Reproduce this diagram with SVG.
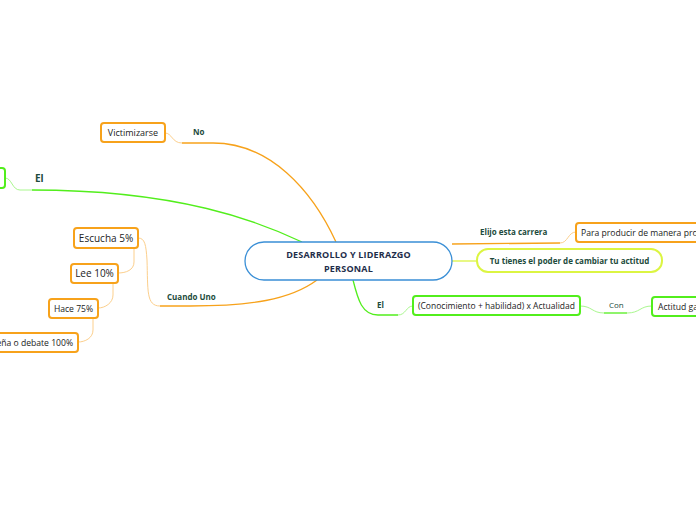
<svg xmlns="http://www.w3.org/2000/svg" width="696" height="520" viewBox="0 0 696 520">
<style>
text{font-family:"Open Sans","Noto Sans","Liberation Sans",sans-serif;}
.n{fill:#fff;stroke-width:2;}
.o{stroke:#f7a21b;}
.g{stroke:#52ee1c;}
.y{stroke:#dcf542;}
.t{font-size:8.6px;fill:#222;}
.t10{font-size:10px;fill:#222;}
.lb{font-size:8px;font-weight:bold;fill:#1d4b3c;}
.c{fill:none;}
.co{stroke:#f7a21b;stroke-width:1.3;}
.cot{stroke:#fccf8c;stroke-width:1;}
.cg{stroke:#52ee1c;stroke-width:1.3;}
.cgt{stroke:#a9f78e;stroke-width:1;}
.cy{stroke:#dcf542;stroke-width:1.3;}
</style>
<rect width="696" height="520" fill="#fff"/>
<g id="connectors" class="c">
<path class="co c" d="M336,242 C312,190 270,143 213,143 L182,143"/>
<path class="cot c" d="M182,143 C172,143 172,133 165,133"/>
<path class="cg c" d="M302,242 C260,222 180,190 32,190"/>
<path class="cgt c" d="M32,190 L20,190 C12,190 12,178 5,178"/>
<path class="co c" d="M317,280 C290,300 250,306 190,306 L160,306"/>
<path class="cot c" d="M160,306 C146,306 148,290 147,260 C146,245 145,238 138,238"/>
<path class="cot c" d="M134,248 L134,262 C134,270 126,273 118,273"/>
<path class="cot c" d="M113,283 L113,295 C113,303 105,308 98,308"/>
<path class="cot c" d="M93,318 L93,330 C93,338 85,342 78,342"/>
<path class="co c" d="M452,244 L560,243"/>
<path class="cot c" d="M560,243 C568,243 568,232 576,232"/>
<path class="cy c" d="M452,261 L477,261"/>
<path class="cg c" d="M353,280 C358,300 362,315 378,315 L398,315"/>
<path class="cgt c" d="M398,315 C406,315 406,306 413,306"/>
<path class="cgt c" d="M580,306 C592,306 592,313 604,313"/>
<path class="cg c" d="M604,313 L627,313"/>
<path class="cgt c" d="M627,313 C640,313 640,306 652,306"/>
<text class="lb" x="193" y="135">No</text>
<text class="lb" x="35" y="182" style="font-size:10px">El</text>
<text class="lb" x="167" y="300">Cuando Uno</text>
<text class="lb" x="480" y="235">Elijo esta carrera</text>
<text class="lb" x="377" y="308">El</text>
<text x="609" y="308" style="font-size:8px;fill:#1d4b3c">Con</text>
</g>
<g id="central">
<rect x="245" y="242" width="207" height="38" rx="19" fill="#fff" stroke="#3a8fd6" stroke-width="1.3"/>
<text x="348.5" y="258" text-anchor="middle" style="font-size:9px;font-weight:bold;fill:#1e2d4a;letter-spacing:0.2px">DESARROLLO Y LIDERAZGO</text>
<text x="348.5" y="272" text-anchor="middle" style="font-size:9px;font-weight:bold;fill:#1e2d4a;letter-spacing:0.2px">PERSONAL</text>
</g>
<g id="victimizarse">
<rect class="n o" x="101" y="123" width="64" height="19" rx="3"/>
<text class="t" x="133" y="136" text-anchor="middle" style="font-size:9px">Victimizarse</text>
</g>
<g id="el-left">
<rect class="n g" x="-60" y="168" width="65" height="20" rx="3"/>
</g>
<g id="escucha">
<rect class="n o" x="74" y="228" width="64" height="20" rx="3"/>
<text class="t10" x="106" y="242" text-anchor="middle">Escucha 5%</text>
</g>
<g id="lee">
<rect class="n o" x="71" y="264" width="47" height="19" rx="3"/>
<text class="t10" x="94.5" y="277" text-anchor="middle">Lee 10%</text>
</g>
<g id="hace">
<rect class="n o" x="49" y="299" width="49" height="19" rx="3"/>
<text class="t" x="73.5" y="312" text-anchor="middle">Hace 75%</text>
</g>
<g id="ensena">
<rect class="n o" x="-30" y="333" width="108" height="19" rx="3"/>
<text class="t" x="73" y="346" text-anchor="end">Enseña o debate 100%</text>
</g>
<g id="para-producir">
<rect class="n o" x="576" y="223" width="140" height="19" rx="3"/>
<text class="t" x="581" y="236">Para producir de manera pro</text>
</g>
<g id="tu-tienes">
<rect class="n y" x="477" y="249" width="185" height="23" rx="11"/>
<text x="569.5" y="264" text-anchor="middle" style="font-size:8px;font-weight:bold;fill:#1d4b3c">Tu tienes el poder de cambiar tu actitud</text>
</g>
<g id="conocimiento">
<rect class="n g" x="413" y="296" width="167" height="19" rx="3"/>
<text class="t" x="418" y="309" textLength="157" lengthAdjust="spacingAndGlyphs">(Conocimiento + habilidad) x Actualidad</text>
</g>
<g id="actitud">
<rect class="n g" x="652" y="297" width="60" height="19" rx="3"/>
<text class="t" x="658" y="310">Actitud ga</text>
</g>
</svg>
